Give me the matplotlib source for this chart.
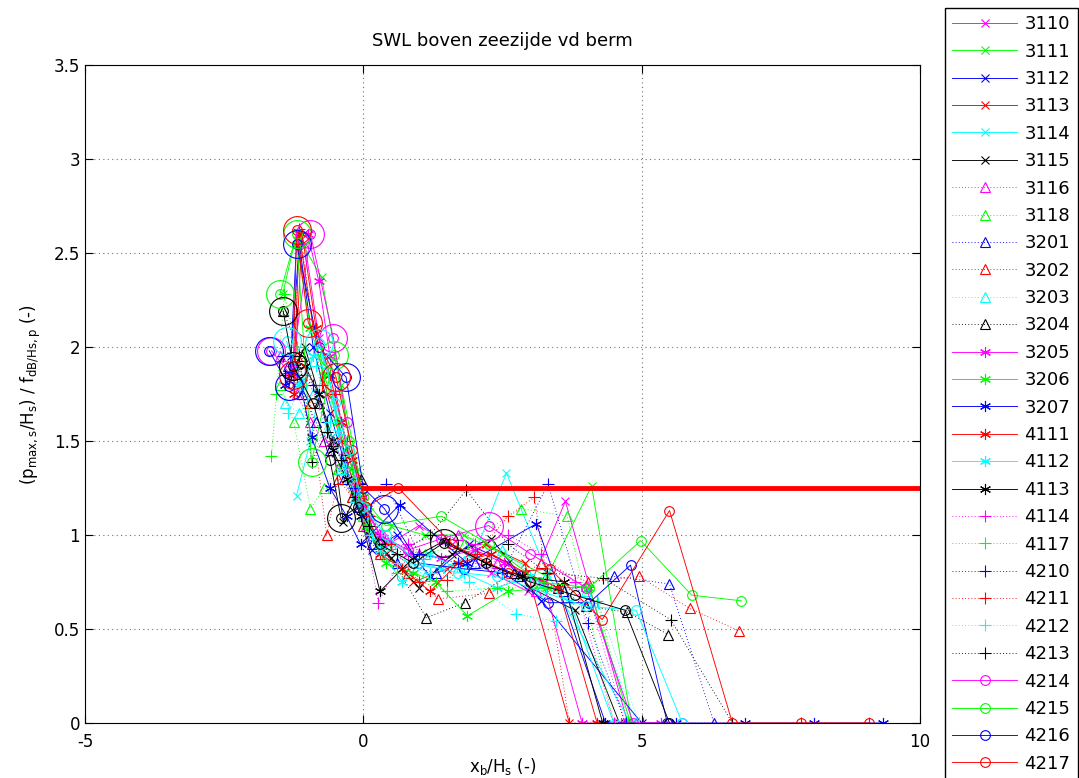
import matplotlib
matplotlib.use('Agg')
import matplotlib.pyplot as plt

plt.rcParams['font.family'] = 'DejaVu Sans'
plt.rcParams['mathtext.default'] = 'regular'

# legend names (test numbers)
labels = ['3110', '3111', '3112', '3113', '3114', '3115',
          '3116', '3118', '3201', '3202', '3203', '3204',
          '3205', '3206', '3207', '4111', '4112', '4113',
          '4114', '4117', '4210', '4211', '4212', '4213',
          '4214', '4215', '4216', '4217']

# x_b/H_s and (p/Hs)/f per test
x_3110 = [-1.05, -0.8, -0.55, -0.35, -0.15, 0.05, 0.45, 1.0, 1.6, 2.3, 2.95, 3.63, 4.75]
y_3110 = [2.55, 2.05, 1.75, 1.45, 1.25, 1.05, 0.95, 1.05, 0.95, 0.8, 0.7, 1.18, 0.0]
x_3111 = [-1.45, -1.2, -0.75, -0.4, -0.1, 0.1, 0.5, 1.1, 1.8, 2.5, 3.3, 4.1, 4.82]
y_3111 = [2.28, 2.6, 2.37, 1.8, 1.35, 1.12, 1.05, 1.0, 1.0, 0.9, 0.78, 1.26, 0.0]
x_3112 = [-1.3, -1.15, -0.9, -0.6, -0.35, -0.1, 0.15, 0.6, 1.2, 1.9, 2.6, 3.2, 5.0]
y_3112 = [1.95, 2.55, 2.0, 1.65, 1.4, 1.15, 0.92, 1.0, 0.78, 0.95, 0.85, 0.65, 0.0]
x_3113 = [-1.25, -1.15, -0.9, -0.65, -0.4, -0.2, 0.05, 0.4, 0.9, 1.5, 2.2, 2.9, 3.7]
y_3113 = [1.8, 2.6, 2.1, 1.75, 1.5, 1.3, 1.1, 0.9, 0.75, 0.82, 0.95, 0.85, 0.0]
x_3114 = [-1.2, -0.95, -0.7, -0.45, -0.2, 0.0, 0.3, 0.8, 1.4, 2.0, 2.57, 3.3, 4.8]
y_3114 = [1.21, 1.5, 1.95, 1.6, 1.35, 1.15, 0.95, 0.85, 0.82, 0.9, 1.33, 0.8, 0.0]
x_3115 = [-1.3, -1.05, -0.8, -0.55, -0.36, -0.15, 0.1, 0.5, 1.0, 1.6, 2.3, 3.0, 3.8, 4.6]
y_3115 = [1.85, 2.0, 1.75, 1.5, 1.07, 1.2, 1.0, 0.88, 0.72, 0.9, 0.98, 0.72, 0.6, 0.0]
x_3116 = [-1.5, -1.2, -0.95, -0.7, -0.45, -0.2, 0.05, 0.4, 1.0, 1.7, 2.4, 3.1, 4.0, 4.7]
y_3116 = [1.95, 1.75, 1.6, 1.5, 1.35, 1.2, 1.05, 0.98, 0.9, 1.0, 0.85, 0.7, 0.73, 0.0]
x_3118 = [-1.5, -1.25, -0.95, -0.7, -0.45, -0.2, 0.0, 0.4, 1.1, 1.8, 2.84, 3.66, 4.5]
y_3118 = [1.8, 1.6, 1.14, 1.25, 1.35, 1.2, 1.1, 0.95, 0.9, 0.95, 1.14, 1.1, 0.0]
x_3201 = [-1.35, -1.1, -0.85, -0.6, -0.35, -0.1, 0.15, 0.6, 1.3, 2.0, 2.8, 3.6, 4.5, 5.5, 6.3]
y_3201 = [1.9, 1.75, 1.6, 1.45, 1.3, 1.15, 0.95, 0.85, 0.8, 0.85, 0.78, 0.7, 0.78, 0.74, 0.0]
x_3202 = [-1.2, -0.95, -0.66, -0.45, -0.2, 0.0, 0.3, 0.8, 1.35, 2.26, 3.2, 4.04, 4.96, 5.86, 6.75]
y_3202 = [1.95, 1.7, 1.0, 1.3, 1.2, 1.05, 0.9, 0.8, 0.66, 0.69, 0.85, 0.75, 0.78, 0.61, 0.49]
x_3203 = [-1.4, -1.15, -0.9, -0.65, -0.4, -0.15, 0.1, 0.5, 1.1, 1.8, 2.5, 3.2, 4.0, 4.9]
y_3203 = [1.7, 1.65, 1.75, 1.55, 1.35, 1.2, 1.05, 0.95, 0.78, 0.86, 0.92, 0.75, 0.7, 0.0]
x_3204 = [-1.44, -1.1, -0.8, -0.55, -0.3, -0.05, 0.3, 1.13, 1.82, 2.7, 3.5, 4.0, 4.74, 5.48]
y_3204 = [2.19, 1.95, 1.7, 1.5, 1.45, 1.3, 0.98, 0.56, 0.64, 0.8, 0.72, 0.62, 0.59, 0.47]
x_3205 = [-1.0, -0.8, -0.6, -0.4, -0.2, 0.0, 0.3, 0.8, 1.4, 2.0, 2.53, 3.23, 3.93, 4.63, 5.35]
y_3205 = [2.6, 2.35, 1.95, 1.6, 1.35, 1.15, 1.0, 0.9, 0.88, 0.92, 0.85, 0.75, 0.0, 0.0, 0.0]
x_3206 = [-1.2, -0.95, -0.7, -0.45, -0.2, 0.05, 0.4, 0.9, 1.3, 1.87, 2.6, 3.3, 4.06, 4.8]
y_3206 = [2.55, 2.1, 1.85, 1.6, 1.35, 1.05, 0.85, 0.8, 0.75, 0.57, 0.7, 0.72, 0.72, 0.0]
x_3207 = [-1.4, -1.2, -0.93, -0.6, -0.3, -0.05, 0.65, 1.87, 3.11, 4.35, 5.61, 6.85, 8.09, 9.34]
y_3207 = [1.8, 1.9, 1.52, 1.25, 1.1, 0.95, 1.16, 0.85, 1.06, 0.0, 0.0, 0.0, 0.0, 0.0]
x_4111 = [-1.25, -1.1, -0.85, -0.6, -0.4, -0.2, 0.0, 0.3, 0.7, 1.2, 1.7, 2.3, 2.9, 3.5, 4.2]
y_4111 = [1.75, 2.6, 2.1, 1.85, 1.6, 1.4, 1.2, 0.9, 0.82, 0.7, 0.85, 0.9, 0.8, 0.72, 0.0]
x_4112 = [-1.15, -0.9, -0.65, -0.45, -0.25, 0.0, 0.3, 0.7, 1.2, 1.8, 2.4, 3.0, 3.7, 4.5]
y_4112 = [1.8, 1.95, 1.9, 1.55, 1.3, 1.1, 0.92, 0.75, 0.9, 0.8, 0.72, 0.78, 0.65, 0.0]
x_4113 = [-1.3, -1.05, -0.8, -0.55, -0.3, -0.05, 0.3, 0.9, 1.46, 2.2, 2.85, 3.6, 4.3]
y_4113 = [1.85, 1.9, 1.75, 1.45, 1.3, 1.1, 0.7, 0.88, 0.97, 0.85, 0.78, 0.75, 0.0]
x_4114 = [-1.3, -1.05, -0.8, -0.55, -0.3, -0.05, 0.27, 0.8, 1.4, 2.0, 2.6, 3.2, 3.8, 4.5]
y_4114 = [1.9, 1.85, 1.7, 1.5, 1.35, 1.15, 0.64, 0.95, 1.0, 0.95, 1.0, 0.9, 0.75, 0.0]
x_4117 = [-1.65, -1.56, -1.42, -1.2, -0.93, -0.65, -0.4, -0.15, 0.1, 0.6, 1.5, 2.4, 3.3, 4.2, 4.76]
y_4117 = [1.42, 1.75, 2.28, 2.0, 1.39, 1.6, 1.4, 1.2, 1.0, 0.8, 0.7, 0.72, 0.72, 0.65, 0.0]
x_4210 = [-1.45, -1.2, -0.9, -0.65, -0.4, -0.15, 0.05, 0.4, 1.0, 1.7, 2.5, 3.32, 4.04, 4.71]
y_4210 = [1.95, 1.85, 1.8, 1.6, 1.4, 1.25, 1.1, 1.27, 0.9, 0.85, 0.8, 1.27, 0.53, 0.0]
x_4211 = [-1.25, -1.15, -0.75, -0.5, -0.3, -0.1, 0.1, 0.5, 1.0, 1.5, 2.05, 2.6, 3.07, 3.7, 5.02, 7.86, 9.08]
y_4211 = [1.85, 2.63, 1.8, 1.75, 1.5, 1.3, 1.1, 0.95, 0.75, 0.76, 0.9, 1.1, 1.2, 0.0, 0.0, 0.0, 0.0]
x_4212 = [-1.35, -1.1, -0.85, -0.6, -0.35, -0.1, 0.15, 0.6, 1.2, 1.9, 2.75, 3.47, 4.22, 4.95]
y_4212 = [1.65, 1.8, 1.9, 1.6, 1.35, 1.2, 1.0, 0.85, 0.8, 0.75, 0.58, 0.54, 0.64, 0.0]
x_4213 = [-1.4, -1.15, -0.93, -0.65, -0.4, -0.15, 0.1, 0.6, 1.2, 1.85, 2.6, 3.3, 4.31, 5.52, 6.63]
y_4213 = [1.85, 1.95, 1.39, 1.55, 1.4, 1.2, 1.05, 0.9, 1.0, 1.24, 0.95, 0.8, 0.77, 0.55, 0.0]
x_4214 = [-1.65, -1.3, -0.95, -0.54, -0.3, -0.05, 0.3, 0.8, 1.4, 2.25, 3.0, 4.0, 4.85, 5.73]
y_4214 = [1.98, 1.85, 2.6, 2.05, 1.6, 1.2, 1.0, 0.92, 0.98, 1.05, 0.9, 0.72, 0.0, 0.0]
x_4215 = [-1.5, -1.2, -0.93, -0.52, -0.25, 0.0, 0.4, 1.4, 2.26, 3.16, 4.06, 4.98, 5.9, 6.79]
y_4215 = [2.28, 2.6, 1.39, 1.96, 1.5, 1.2, 1.05, 1.1, 0.95, 0.75, 0.72, 0.97, 0.68, 0.65]
x_4216 = [-1.69, -1.33, -1.2, -0.8, -0.31, 0.0, 0.38, 1.0, 1.8, 2.5, 3.32, 4.06, 4.8, 5.46]
y_4216 = [1.98, 1.79, 2.55, 2.0, 1.84, 1.25, 1.14, 0.85, 0.82, 0.8, 0.64, 0.64, 0.84, 0.0]
x_4217 = [-1.26, -1.2, -0.99, -0.49, -0.2, 0.05, 0.63, 1.6, 2.6, 3.35, 4.29, 5.5, 6.63, 7.86, 9.08]
y_4217 = [1.85, 2.62, 2.13, 1.84, 1.45, 1.15, 1.25, 0.95, 0.8, 0.82, 0.55, 1.13, 0.0, 0.0, 0.0]

# two more circle series whose legend rows are below the figure edge
x_c_circ = [-1.38, -1.1, -0.79, -0.5, -0.25, 0.0, 0.4, 1.0, 1.7, 2.4, 3.2, 4.0, 4.9, 5.73]
y_c_circ = [2.03, 1.8, 2.02, 1.7, 1.45, 1.15, 1.0, 0.85, 0.8, 0.78, 0.7, 0.62, 0.6, 0.0]
x_k_circ = [-1.44, -1.26, -0.9, -0.6, -0.4, -0.1, 0.3, 0.9, 1.45, 2.2, 3.0, 3.8, 4.7, 5.5]
y_k_circ = [2.19, 1.9, 1.7, 1.4, 1.09, 1.15, 0.95, 0.85, 0.96, 0.85, 0.75, 0.68, 0.6, 0.0]

# points that are marked with a large circle
big_m_x = [-1.65, -0.95, -0.54, 2.25]
big_m_y = [1.98, 2.6, 2.05, 1.05]
big_g_x = [-1.5, -1.2, -0.93, -0.52]
big_g_y = [2.28, 2.6, 1.39, 1.96]
big_b_x = [-1.69, -1.33, -1.2, -0.31, 0.38]
big_b_y = [1.98, 1.79, 2.55, 1.84, 1.14]
big_r_x = [-1.26, -1.2, -0.99, -0.49]
big_r_y = [1.85, 2.62, 2.13, 1.84]
big_c_x = [-1.38, -0.79]
big_c_y = [2.03, 2.02]
big_k_x = [-1.44, -1.26, -0.4, 1.45]
big_k_y = [2.19, 1.9, 1.09, 0.96]

# criterion line
crit_x = [0, 10]
crit_y = [1.25, 1.25]

xs = [x_3110, x_3111, x_3112, x_3113, x_3114, x_3115,
      x_3116, x_3118, x_3201, x_3202, x_3203, x_3204,
      x_3205, x_3206, x_3207, x_4111, x_4112, x_4113,
      x_4114, x_4117, x_4210, x_4211, x_4212, x_4213,
      x_4214, x_4215, x_4216, x_4217]
ys = [y_3110, y_3111, y_3112, y_3113, y_3114, y_3115,
      y_3116, y_3118, y_3201, y_3202, y_3203, y_3204,
      y_3205, y_3206, y_3207, y_4111, y_4112, y_4113,
      y_4114, y_4117, y_4210, y_4211, y_4212, y_4213,
      y_4214, y_4215, y_4216, y_4217]

cols = {'m': (1, 0, 1), 'g': (0, 1, 0), 'b': (0, 0, 1),
        'r': (1, 0, 0), 'c': (0, 1, 1), 'k': (0, 0, 0)}
cyc = ['m', 'g', 'b', 'r', 'c', 'k']
dots = (0, (1, 2.5))
# (marker, linestyle, size) per group of six
groups = [('x', '-', 6), ('^', dots, 7.5), ((6, 2, 0), '-', 8),
          ('+', dots, 8), ('o', '-', 7)]
LW = 0.65

fig = plt.figure(figsize=(10.79, 7.78), dpi=100)
ax = fig.add_axes([85/1079, 1 - 723/778, 835/1079, 658/778])

for i, name in enumerate(labels):
    mk, ls, ms = groups[i // 6]
    c = cols[cyc[i % 6]]
    ax.plot(xs[i], ys[i], color=c, ls=ls, lw=LW, marker=mk, ms=ms,
            mfc='none', mec=c, mew=0.8, label=name)

ax.plot(x_c_circ, y_c_circ, color=cols['c'], lw=LW, marker='o', ms=7,
        mfc='none', mew=0.8, label='_nolegend_')
ax.plot(x_k_circ, y_k_circ, color=cols['k'], lw=LW, marker='o', ms=7,
        mfc='none', mew=0.8, label='_nolegend_')

for bx, by, c in [(big_m_x, big_m_y, 'm'), (big_g_x, big_g_y, 'g'),
                  (big_b_x, big_b_y, 'b'), (big_r_x, big_r_y, 'r'),
                  (big_c_x, big_c_y, 'c'), (big_k_x, big_k_y, 'k')]:
    ax.plot(bx, by, ls='none', marker='o', ms=20, mfc='none',
            mec=cols[c], mew=0.8, label='_nolegend_')

ax.plot(crit_x, crit_y, color='r', lw=3.5, label='_nolegend_')

ax.set_xlim(-5, 10)
ax.set_ylim(0, 3.5)
ax.set_xticks([-5, 0, 5, 10])
ax.set_xticklabels(['-5', '0', '5', '10'])
ax.set_yticks([0, 0.5, 1, 1.5, 2, 2.5, 3, 3.5])
ax.set_yticklabels(['0', '0.5', '1', '1.5', '2', '2.5', '3', '3.5'])
ax.tick_params(direction='in', top=True, right=True, length=6,
               labelsize=12, width=0.8)
ax.tick_params(axis='x', pad=7)
ax.grid(True, color='0.45', ls=(0, (1, 3)), lw=0.8)
ax.set_axisbelow(True)
for s in ax.spines.values():
    s.set_linewidth(0.8)

ax.set_title('SWL boven zeezijde vd berm', fontsize=13, pad=14)
ax.set_xlabel('x$_b$/H$_s$ (-)', fontsize=12, labelpad=4)
ax.set_ylabel('(p$_{max,s}$/H$_s$) / f$_{dB/Hs,p}$ (-)', fontsize=12,
              labelpad=8)

fig.legend(loc='upper left', bbox_to_anchor=(945/1079, 1 - 8/778),
           borderaxespad=0, fontsize=13, frameon=True, fancybox=False,
           edgecolor='k', framealpha=1, numpoints=1, handlelength=3.6,
           handletextpad=0.4, labelspacing=0.52, borderpad=0.4)

fig.savefig('out.png', dpi=100)
